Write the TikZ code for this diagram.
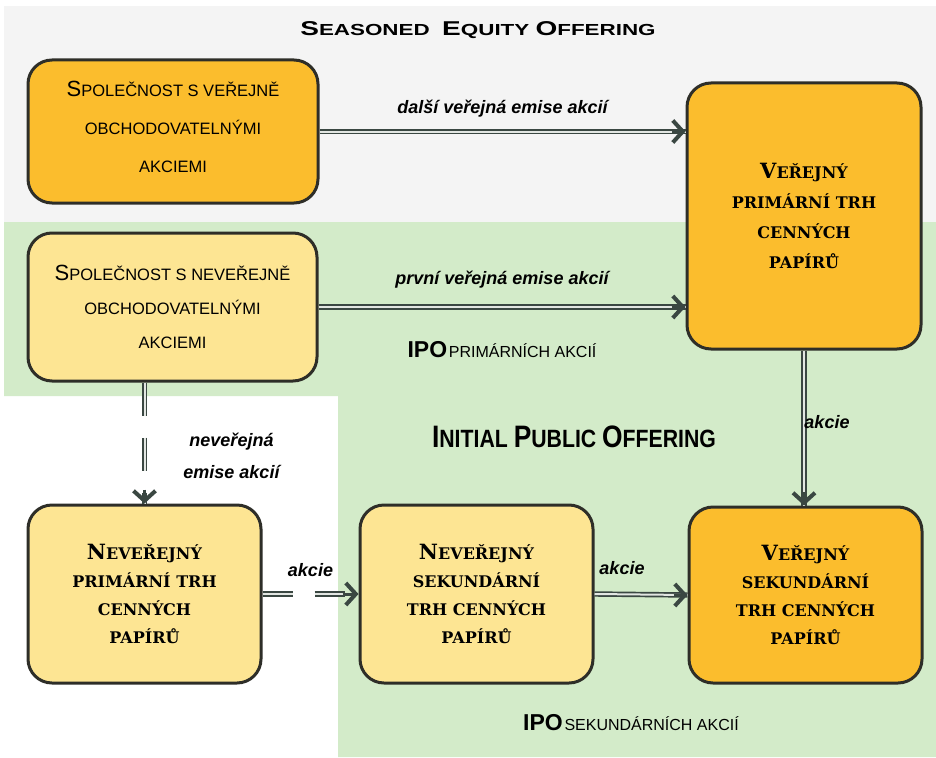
\documentclass[tikz,border=0pt]{standalone}
\usepackage{fontspec}
\setmainfont{Liberation Sans}
\newfontfamily\serifbox{DejaVu Serif}
\newfontfamily\widesans[FakeStretch=1.4]{Liberation Sans}
\newfontfamily\narrowsans[FakeStretch=0.85]{Liberation Sans}
\usetikzlibrary{arrows.meta,calc}
\definecolor{orangebox}{HTML}{FBBD2D}
\definecolor{yellowbox}{HTML}{FDE593}
\definecolor{greenbg}{HTML}{D3EBC9}
\definecolor{graybg}{HTML}{F4F4F4}
\definecolor{bordc}{HTML}{2E2E28}
\definecolor{arrc}{HTML}{3A4742}
\definecolor{dblin}{HTML}{E2E6E2}
\newcommand{\BL}[2]{{\fontsize{#1}{#1}\selectfont #2}}
\begin{document}
\begin{tikzpicture}[x=1pt,y=-1pt,
  box/.style={draw=bordc, line width=3pt, rounded corners=24pt, align=center, inner sep=0pt},
  sansbox/.style={box, font=\fontsize{16.5}{34}\selectfont},
  serifbx/.style={box, font=\serifbox\bfseries\fontsize{16}{30}\selectfont},
  serifbxs/.style={box, font=\serifbox\bfseries\fontsize{16}{28}\selectfont},
  dbl/.style={draw=arrc, line width=1.7pt, double=dblin, double distance=2pt},
  chev/.style={draw=arrc, line width=3pt, -{Straight Barb[length=10pt,width=22pt,line width=4pt]}},
  lbl/.style={font=\bfseries\itshape\fontsize{18}{32}\selectfont, inner sep=0pt, align=center}
]
\useasboundingbox (0,0) rectangle (936,757);
\fill[white] (0,0) rectangle (936,757);
\fill[graybg] (4,6) rectangle (936,222);
\fill[greenbg] (4,222) -- (936,222) -- (936,757) -- (338,757) -- (338,396) -- (4,396) -- cycle;

% titles
\node[font=\widesans\bfseries\fontsize{16}{16}\selectfont, inner sep=0pt] (seo) at (478,30)
  {\BL{20}{S}EASONED~~\BL{20}{E}QUITY \BL{20}{O}FFERING};
\node[font=\narrowsans\bfseries\fontsize{25}{25}\selectfont, inner sep=0pt] (ipot) at (574,437)
  {\BL{31}{I}NITIAL \BL{31}{P}UBLIC \BL{31}{O}FFERING};

% boxes
\node[sansbox, font=\fontsize{16.5}{38}\selectfont, text depth=9pt, fill=orangebox, minimum width=290pt, minimum height=143pt] (A) at (173,131.5)
  {\BL{22}{S}POLEČNOST S VEŘEJNĚ\\OBCHODOVATELNÝMI\\AKCIEMI};
\node[sansbox, fill=yellowbox, minimum width=289pt, minimum height=148pt] (B) at (172.5,307)
  {\BL{22}{S}POLEČNOST S NEVEŘEJNĚ\\OBCHODOVATELNÝMI\\AKCIEMI};
\node[serifbx, fill=orangebox, minimum width=234pt, minimum height=266pt] (C) at (804,216)
  {\BL{21}{V}EŘEJNÝ\\PRIMÁRNÍ TRH\\CENNÝCH\\PAPÍRŮ};
\node[serifbxs, fill=yellowbox, minimum width=233pt, minimum height=178pt] (D) at (144.5,594)
  {\BL{21}{N}EVEŘEJNÝ\\PRIMÁRNÍ TRH\\CENNÝCH\\PAPÍRŮ};
\node[serifbxs, fill=yellowbox, minimum width=233pt, minimum height=178pt] (E) at (476.5,594)
  {\BL{21}{N}EVEŘEJNÝ\\SEKUNDÁRNÍ\\TRH CENNÝCH\\PAPÍRŮ};
\node[serifbxs, fill=orangebox, minimum width=233pt, minimum height=176pt] (F) at (805.5,595)
  {\BL{21}{V}EŘEJNÝ\\SEKUNDÁRNÍ\\TRH CENNÝCH\\PAPÍRŮ};

% connectors
\draw[dbl] (A.east) -- (A.east -| C.west)
  node[lbl, midway, yshift=23pt] {další veřejná emise akcií};
\draw[chev] ($(A.east -| C.west)+(-14pt,0)$) -- (A.east -| C.west);

\draw[dbl] (B.east) -- (B.east -| C.west)
  node[lbl, midway, yshift=27pt] {první veřejná emise akcií}
  node[midway, yshift=-43pt, inner sep=0pt] (ipo1) {{\bfseries\fontsize{23}{23}\selectfont IPO}\,{\fontsize{16}{16}\selectfont PRIMÁRNÍCH AKCIÍ}};
\draw[chev] ($(B.east -| C.west)+(-14pt,0)$) -- (B.east -| C.west);

\draw[dbl] (C.south) -- (C.south |- F.north)
  node[lbl, midway, xshift=23pt, yshift=6pt] {akcie};
\draw[chev] ($(C.south |- F.north)+(0,14pt)$) -- (C.south |- F.north);

\draw[dbl, dash pattern=on 33pt off 22pt] (B.south -| D.north) -- (D.north)
  node[lbl, midway, xshift=87pt, yshift=-13pt] {neveřejná\\emise akcií};
\draw[chev] ($(D.north)+(0,14pt)$) -- (D.north);

\draw[dbl, dash pattern=on 30pt off 22pt] (D.east) -- (E.west)
  node[lbl, midway, yshift=24pt] {akcie};
\draw[chev] ($(E.west)+(-16pt,0)$) -- (E.west);

\draw[dbl] (E.east) -- (F.west)
  node[lbl, midway, xshift=-19pt, yshift=26pt] {akcie};
\draw[chev] ($(F.west)+(-14pt,0)$) -- (F.west);

\node[inner sep=0pt] (ipo2) at (631,723)
  {{\bfseries\fontsize{23}{23}\selectfont IPO}\,{\fontsize{16}{16}\selectfont SEKUNDÁRNÍCH AKCIÍ}};
\end{tikzpicture}
\end{document}
